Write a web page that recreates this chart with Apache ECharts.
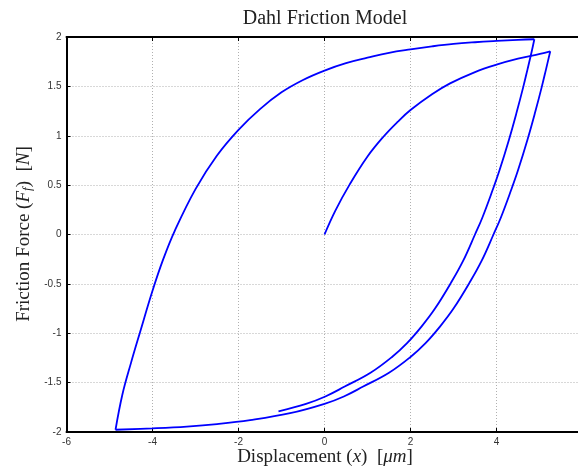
<!DOCTYPE html>
<html>
<head>
<meta charset="utf-8">
<script src="https://cdn.jsdelivr.net/npm/echarts@6/dist/echarts.min.js"></script>
<style>
  html, body { margin: 0; padding: 0; background: #fff; }
  #chart { width: 578px; height: 471px; }
</style>
</head>
<body>
<div id="chart"></div>
<script>
// branches of the hysteresis loop, [displacement, force]
const virginBranch = [
  [0, 0], [0.25, 0.24], [0.59, 0.51], [1.0, 0.79], [1.37, 0.99], [1.7, 1.14],
  [2.0, 1.26], [2.5, 1.42], [2.92, 1.53], [3.5, 1.645], [4.0, 1.72],
  [4.5, 1.78], [5.01, 1.83], [5.25, 1.855]
]
const firstDescent = [
  [5.25, 1.855], [5.15, 1.67], [5.05, 1.49], [4.9, 1.24], [4.72, 0.96],
  [4.5, 0.65], [4.34, 0.45], [4.1, 0.17], [3.93, 0], [3.65, -0.27],
  [3.37, -0.49], [3.0, -0.75], [2.69, -0.93], [2.35, -1.1], [2.0, -1.24],
  [1.5, -1.4], [0.9, -1.54], [0.45, -1.64], [0, -1.715], [-0.8, -1.81],
  [-1.73, -1.88], [-2.5, -1.92], [-3.2, -1.945], [-4.0, -1.963], [-4.86, -1.977]
]
const ascent = [
  [-4.86, -1.977], [-4.7, -1.62], [-4.5, -1.3], [-4.29, -0.99], [-4.0, -0.57],
  [-3.75, -0.25], [-3.48, 0.04], [-3.0, 0.46], [-2.5, 0.8], [-2.0, 1.06],
  [-1.5, 1.27], [-1.0, 1.44], [-0.5, 1.565], [0, 1.66], [0.5, 1.735],
  [1.0, 1.79], [1.5, 1.84], [2.0, 1.875], [2.5, 1.905], [3.0, 1.93],
  [3.5, 1.947], [4.0, 1.96], [4.5, 1.971], [4.88, 1.977]
]
const secondDescent = [
  [4.88, 1.977], [4.82, 1.855], [4.72, 1.67], [4.62, 1.49], [4.47, 1.24],
  [4.29, 0.96], [4.07, 0.65], [3.91, 0.45], [3.67, 0.17], [3.5, 0],
  [3.22, -0.27], [2.94, -0.49], [2.57, -0.75], [2.26, -0.93], [1.92, -1.1],
  [1.57, -1.24], [1.07, -1.4], [0.47, -1.54], [0.02, -1.64], [-0.43, -1.715],
  [-1.07, -1.79]
]
const xTicks = { min: -6, max: 6, step: 2 }
const yTicks = { min: -2, max: 2, step: 0.5 }

const chart = echarts.init(document.getElementById('chart'))

const serif = '"Liberation Serif", "DejaVu Serif", serif'
const gridLine = { show: true, lineStyle: { color: '#b0b0b0', width: 1, type: [1, 2] } }
const blackAxis = { show: true, onZero: false, lineStyle: { color: '#000', width: 2 } }
const tick = { show: true, inside: true, length: 4, lineStyle: { color: '#000', width: 1 } }
const tickLabel = { color: '#333', fontSize: 10, fontFamily: 'Liberation Sans, Arial, sans-serif' }

const branchLine = (data) => ({
  type: 'line',
  data: data,
  showSymbol: false,
  smooth: 0.4,
  lineStyle: { color: '#0000ff', width: 1.8 },
  animation: false,
  z: 5,
})

const option = {
  backgroundColor: '#ffffff',
  animation: false,
  grid: {
    left: 66.5, top: 37, width: 516, height: 395,
    containLabel: false, outerBoundsMode: 'none',
  },
  xAxis: [
    {
      type: 'value', min: xTicks.min, max: xTicks.max, interval: xTicks.step,
      position: 'bottom',
      axisLine: blackAxis, axisTick: tick, splitLine: gridLine,
      axisLabel: Object.assign({ margin: 5 }, tickLabel),
    },
    {
      type: 'value', min: xTicks.min, max: xTicks.max, interval: xTicks.step,
      position: 'top',
      axisLine: blackAxis, axisTick: tick, splitLine: { show: false },
      axisLabel: { show: false },
    },
  ],
  yAxis: {
    type: 'value', min: yTicks.min, max: yTicks.max, interval: yTicks.step,
    axisLine: blackAxis, axisTick: tick, splitLine: gridLine,
    axisLabel: Object.assign({ margin: 5 }, tickLabel),
  },
  series: [
    branchLine(virginBranch),
    branchLine(firstDescent),
    branchLine(ascent),
    branchLine(secondDescent),
  ],
  graphic: [
    {
      type: 'text', x: 325, y: 19,
      style: {
        text: 'Dahl Friction Model', font: '20px ' + serif, fill: '#222',
        textAlign: 'center', textVerticalAlign: 'middle',
      },
    },
    {
      type: 'text', x: 325, y: 457,
      style: {
        text: '{n|Displacement (}{i|x}{n|)  [}{i|μm}{n|]}',
        textAlign: 'center', textVerticalAlign: 'middle', fill: '#222',
        rich: {
          n: { fontFamily: serif, fontSize: 19, fill: '#222' },
          i: { fontFamily: serif, fontSize: 19, fontStyle: 'italic', fill: '#222' },
        },
      },
    },
    {
      type: 'text', x: 24, y: 234, rotation: Math.PI / 2,
      style: {
        text: '{n|Friction Force (}{i|F}{s|f}{n|)  [}{i|N}{n|]}',
        textAlign: 'center', textVerticalAlign: 'middle', fill: '#222',
        rich: {
          n: { fontFamily: serif, fontSize: 19, fill: '#222' },
          i: { fontFamily: serif, fontSize: 19, fontStyle: 'italic', fill: '#222' },
          s: { fontFamily: serif, fontSize: 13, fontStyle: 'italic', fill: '#222', padding: [8, 0, 0, 0] },
        },
      },
    },
  ],
}

chart.setOption(option)
</script>
</body>
</html>
